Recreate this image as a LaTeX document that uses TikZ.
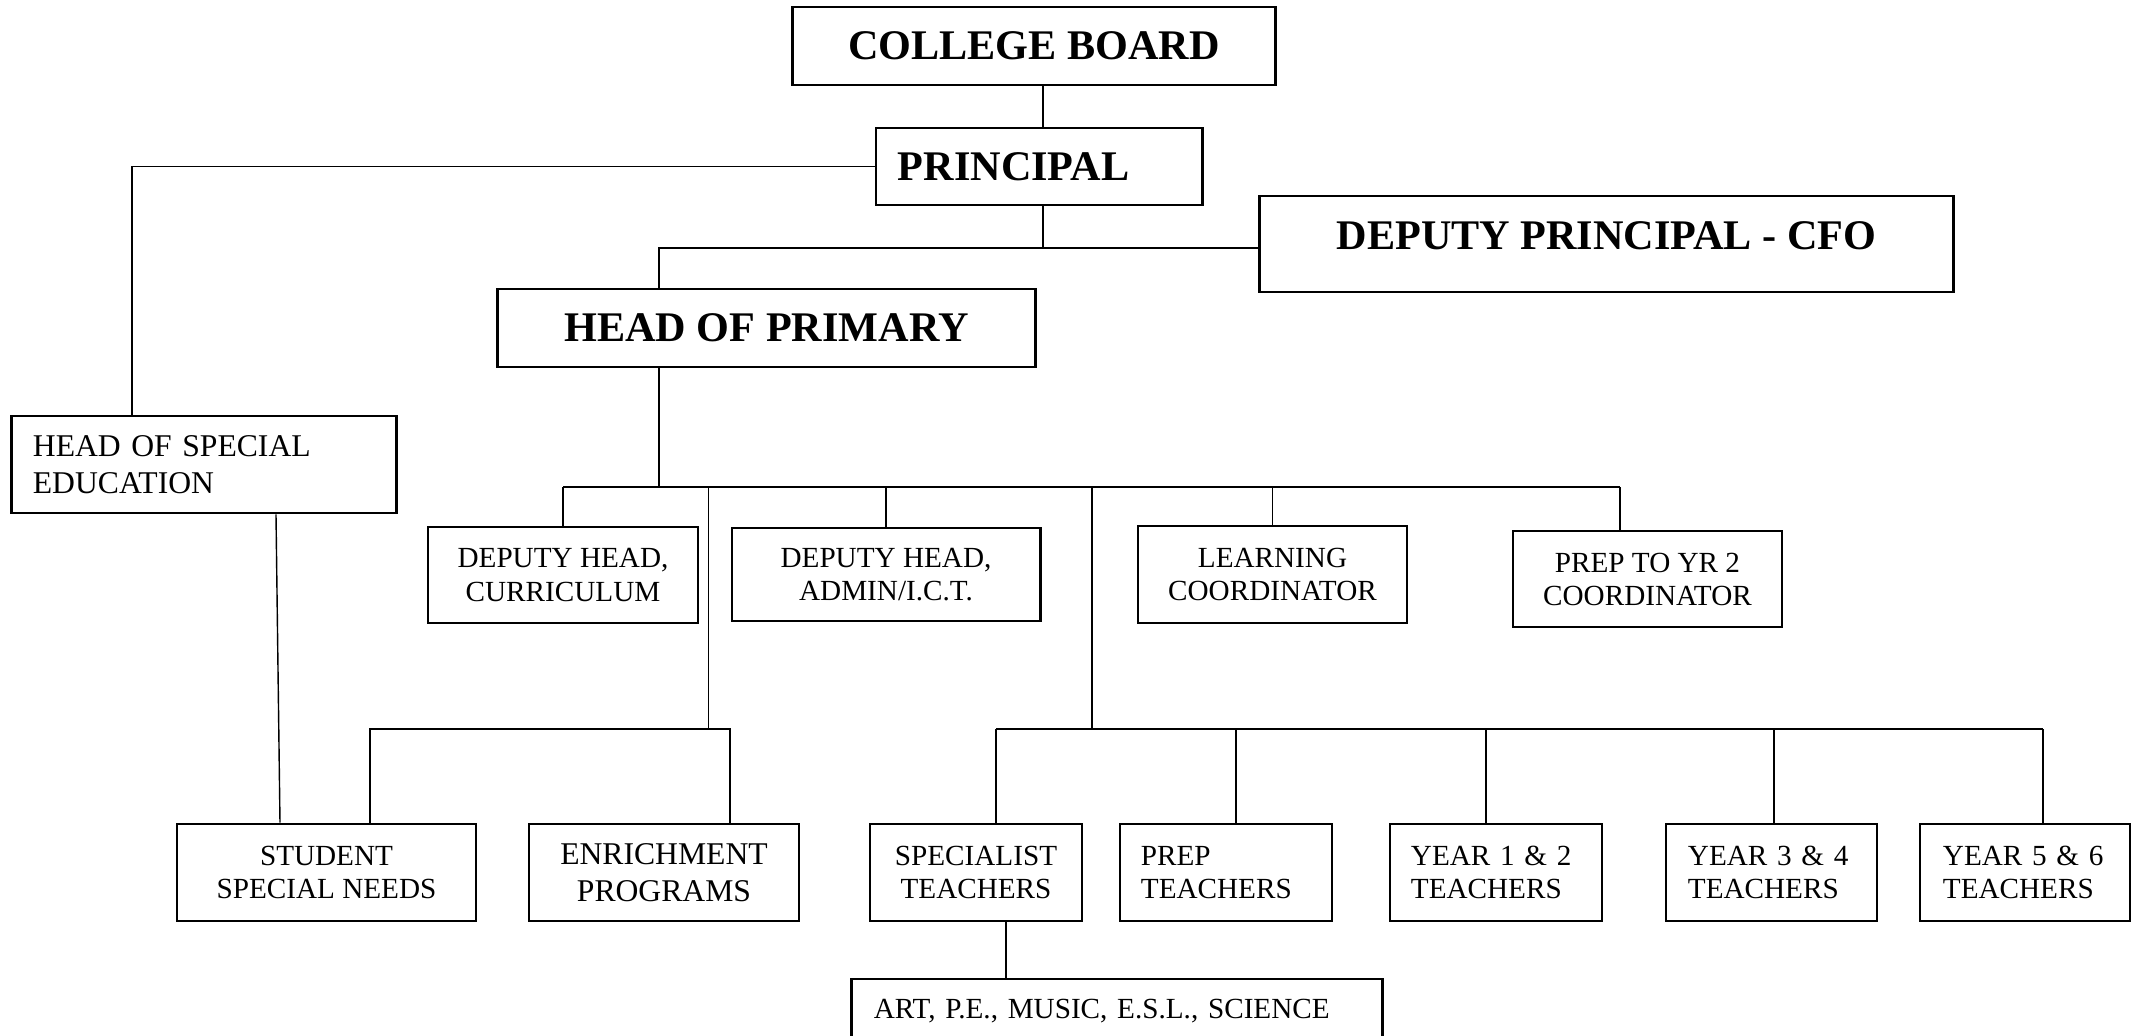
\documentclass[tikz,border=0pt]{standalone}
\usepackage{fontspec}
\setmainfont{Liberation Serif}
\usetikzlibrary{calc}

\tikzset{
  unit/.style={draw, line width=0.8pt, inner sep=0pt, align=center, font=\fontsize{8.3pt}{9.4pt}\selectfont},
  midunit/.style={unit, font=\fontsize{9pt}{10.5pt}\selectfont},
  bigunit/.style={unit, font=\bfseries\fontsize{12pt}{14pt}\selectfont},
  link/.style={line width=0.4pt},
}

\begin{document}
\begin{tikzpicture}[x=0.01cm,y=-0.01cm]
  \fill[white] (0,0) rectangle (2132,1035);
  \useasboundingbox (0,0) rectangle (2132,1035);

  % top of the chart
  \node[bigunit,minimum width=4.82cm,minimum height=0.78cm] (cb) at (1034,46) {COLLEGE BOARD};
  \node[bigunit,minimum width=3.26cm,minimum height=0.77cm,text width=2.82cm,align=left] (prin) at (1039,166.5) {PRINCIPAL};
  \node[bigunit,minimum width=6.93cm,text height=0.53cm,text depth=0.43cm] (dp) at (1606.5,244) {DEPUTY PRINCIPAL - CFO};
  \node[bigunit,minimum width=5.37cm,minimum height=0.78cm] (hop) at (766.5,328) {HEAD OF PRIMARY};
  \node[midunit,minimum width=3.84cm,minimum height=0.97cm,text width=3.42cm,align=left] (hose) at (204,464.5) {HEAD OF SPECIAL\\EDUCATION};

  % second row
  \node[unit,minimum width=2.70cm,minimum height=0.96cm] (dhc) at (563,575) {DEPUTY HEAD,\\CURRICULUM};
  \node[unit,minimum width=3.08cm,minimum height=0.93cm] (dha) at (886,574.5) {DEPUTY HEAD,\\ADMIN/I.C.T.};
  \node[unit,minimum width=2.69cm,minimum height=0.97cm] (lc) at (1272.5,574.5) {LEARNING\\COORDINATOR};
  \node[unit,minimum width=2.69cm,minimum height=0.96cm] (p2c) at (1647.5,579) {PREP TO YR 2\\COORDINATOR};

  % third row
  \node[unit,minimum width=2.99cm,minimum height=0.97cm] (ssn) at (326.5,872.5) {STUDENT\\SPECIAL NEEDS};
  \node[midunit,minimum width=2.70cm,minimum height=0.97cm] (enr) at (664,872.5) {ENRICHMENT\\PROGRAMS};
  \node[unit,minimum width=2.12cm,minimum height=0.97cm] (spt) at (976,872.5) {SPECIALIST\\TEACHERS};
  \node[unit,minimum width=2.12cm,minimum height=0.97cm,text width=1.70cm,align=left] (prt) at (1226,872.5) {PREP\\TEACHERS};
  \node[unit,minimum width=2.12cm,minimum height=0.97cm,text width=1.70cm,align=left] (y12) at (1496,872.5) {YEAR 1 \& 2\\TEACHERS};
  \node[unit,minimum width=2.11cm,minimum height=0.97cm,text width=1.67cm,align=left] (y34) at (1771.5,872.5) {YEAR 3 \& 4\\TEACHERS};
  \node[unit,minimum width=2.10cm,minimum height=0.97cm,text width=1.64cm,align=left] (y56) at (2025,872.5) {YEAR 5 \& 6\\TEACHERS};
  \node[unit,minimum width=5.30cm,text height=0.39cm,text depth=0.27cm,text width=4.86cm,align=left] (art) at (1117,1012) {ART, P.E., MUSIC, E.S.L., SCIENCE};

  % board and principal
  \draw[link] (1043,0 |- cb.south) -- (1043,0 |- prin.north);
  \draw[link] (prin.west) -| (132,0 |- hose.north);
  \draw[link] (1043,0 |- prin.south) -- (1043,248);
  \draw[link] (659,0 |- hop.north) |- (1043,248) -- (1043,248 -| dp.west);

  % head of primary to staff
  \draw[link] (659,0 |- hop.south) -- (659,487);
  \draw[link] (563,487) -- (1620,487);
  \draw[link] (563,487) -- (dhc.north);
  \draw[link] (886,487) -- (dha.north);
  \draw[link] (1272.5,487) -- (lc.north);
  \draw[link] (1620,487) -- (1620,0 |- p2c.north);

  % enrichment branch
  \draw[link] (708.5,487) -- (708.5,729);
  \draw[link] (370,0 |- ssn.north) |- (730,729) -- (730,0 |- enr.north);
  \draw[link] (276,0 |- hose.south) -- (280,0 |- ssn.north);

  % teachers branch
  \draw[link] (1092,487) -- (1092,729);
  \draw[link] (996,729) -- (2043,729);
  \foreach \x/\n in {996/spt, 1236/prt, 1486/y12, 1774/y34, 2043/y56}
    \draw[link] (\x,729) -- (\x,0 |- \n.north);
  \draw[link] (1006,0 |- spt.south) -- (1006,0 |- art.north);
\end{tikzpicture}
\end{document}
